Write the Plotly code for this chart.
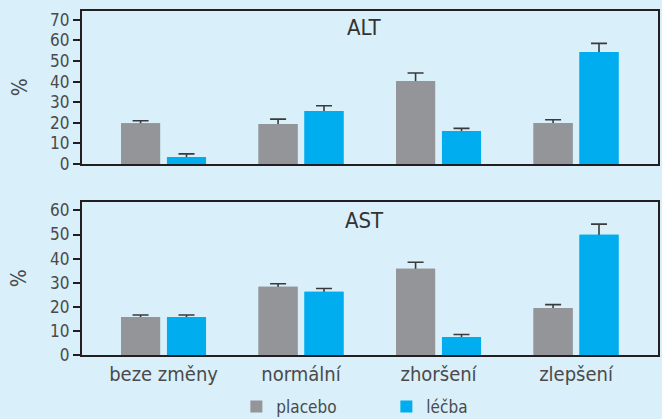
import plotly.graph_objects as go
from plotly.subplots import make_subplots

categories = ["beze změny", "normální", "zhoršení", "zlepšení"]
series_names = ["placebo", "léčba"]

alt_placebo = [19.8, 19.4, 40.3, 19.9]
alt_placebo_err = [1.2, 2.4, 3.9, 1.6]
alt_lecba = [3.4, 25.7, 16.0, 54.4]
alt_lecba_err = [1.5, 2.6, 1.3, 4.2]

ast_placebo = [15.8, 28.3, 35.8, 19.5]
ast_placebo_err = [0.8, 1.3, 2.7, 1.4]
ast_lecba = [15.8, 26.2, 7.5, 49.9]
ast_lecba_err = [0.8, 1.4, 1.0, 4.4]

alt_ticks = [0, 10, 20, 30, 40, 50, 60, 70]
ast_ticks = [0, 10, 20, 30, 40, 50, 60]
panel_titles = ["ALT", "AST"]

GRAY = "#939598"
BLUE = "#00AEEF"
BG = "#D9EFF9"
FRAME = "#231F20"
TXT = "#4A4A4C"
FONT = "Liberation Sans Narrow, DejaVu Sans Condensed, Roboto, sans-serif"

fig = make_subplots(rows=2, cols=1, vertical_spacing=0.0)

def add_panel(row, placebo, placebo_err, lecba, lecba_err, show):
    specs = [
        (series_names[0], placebo, placebo_err, GRAY, -0.309),
        (series_names[1], lecba, lecba_err, BLUE, 0.025),
    ]
    # bars with symmetric error bars (lower half hidden by the cover bars below)
    for name, vals, errs, color, off in specs:
        fig.add_trace(go.Bar(
            x=list(range(len(categories))), y=vals, name=name,
            marker=dict(color=color, line=dict(width=0)),
            width=0.284, offset=off,
            error_y=dict(type="data", array=errs, symmetric=True,
                         color="#3A3A3C", thickness=1.6, width=8),
            showlegend=show, legendgroup=name, hoverinfo="skip",
        ), row=row, col=1)
    for name, vals, errs, color, off in specs:
        fig.add_trace(go.Bar(
            x=list(range(len(categories))), y=vals, name=name,
            marker=dict(color=color, line=dict(width=0)),
            width=0.284, offset=off,
            showlegend=False, legendgroup=name,
        ), row=row, col=1)

add_panel(1, alt_placebo, alt_placebo_err, alt_lecba, alt_lecba_err, True)
add_panel(2, ast_placebo, ast_placebo_err, ast_lecba, ast_lecba_err, False)

axis_common = dict(showline=True, linecolor=FRAME, linewidth=2.2, mirror=True,
                   showgrid=False, zeroline=False)

fig.update_xaxes(range=[-0.593, 3.596], tickvals=list(range(len(categories))),
                 ticktext=categories, ticks="", **axis_common)
fig.update_xaxes(showticklabels=False, row=1, col=1)
fig.update_xaxes(tickfont=dict(size=20, color=TXT, family=FONT), ticklabelstandoff=0,
                 row=2, col=1)

fig.update_yaxes(ticks="outside", ticklen=7, tickwidth=2, tickcolor=FRAME,
                 tickfont=dict(size=17, color=TXT, family=FONT), **axis_common)
fig.update_yaxes(range=[0, 74.3], tickvals=alt_ticks, domain=[0.5552, 1.0], row=1, col=1)
fig.update_yaxes(range=[0, 63.5], tickvals=ast_ticks, domain=[0.0, 0.4448], row=2, col=1)

annotations = [
    dict(text=panel_titles[0], x=0.491, y=0.9506, xref="paper", yref="paper",
         xanchor="center", yanchor="middle",
         showarrow=False, font=dict(size=22, color="#333333", family=FONT)),
    dict(text=panel_titles[1], x=0.491, y=0.3924, xref="paper", yref="paper",
         xanchor="center", yanchor="middle",
         showarrow=False, font=dict(size=22, color="#333333", family=FONT)),
    dict(text="%", x=-0.108, y=0.7776, xref="paper", yref="paper", textangle=-90,
         xanchor="center", yanchor="middle",
         showarrow=False, font=dict(size=21, color=TXT, family=FONT)),
    dict(text="%", x=-0.108, y=0.2224, xref="paper", yref="paper", textangle=-90,
         xanchor="center", yanchor="middle",
         showarrow=False, font=dict(size=21, color=TXT, family=FONT)),
]

fig.update_layout(
    width=662, height=419,
    margin=dict(l=82, r=4, t=11, b=64, autoexpand=False),
    paper_bgcolor=BG, plot_bgcolor=BG,
    barmode="overlay",
    annotations=annotations,
    legend=dict(orientation="h", x=0.268, xanchor="left", y=-0.151, yanchor="middle",
                font=dict(size=17, color=TXT, family=FONT), entrywidth=105,
                bgcolor="rgba(0,0,0,0)"),
)

fig.write_html("out.html")
